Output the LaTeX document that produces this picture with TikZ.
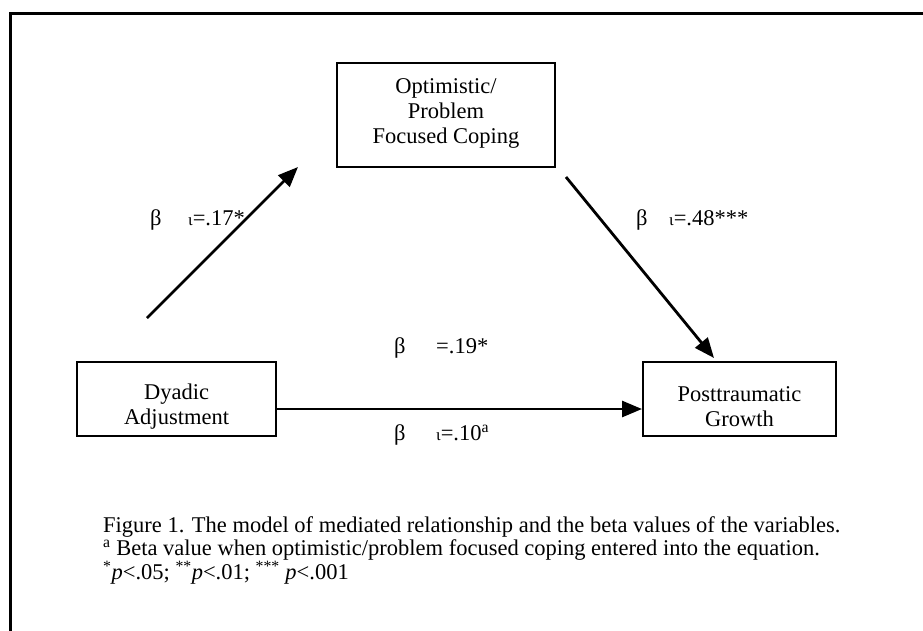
\documentclass[tikz,border=0pt]{standalone}
\usepackage{fontspec}
\setmainfont{Liberation Serif}
\usetikzlibrary{arrows.meta}
\begin{document}
\begin{tikzpicture}[x=1pt,y=-1pt,
  box/.style={draw, line width=2.2pt, inner sep=0pt},
  txt/.style={font=\fontsize{22.5}{25}\selectfont, align=center, inner sep=0pt},
  arr/.style={line width=2.8pt, -{Triangle[length=20pt,width=16pt]}},
  lab/.style={font=\fontsize{22.5}{24}\selectfont, inner sep=0pt, anchor=base west},
  iota/.style={}]
\useasboundingbox (0,0) rectangle (923,630);
% outer frame (only top and left visible)
\draw[line width=3pt] (10,632) -- (10,13) -- (925,13);
% boxes
\node[box, minimum width=218pt, minimum height=104pt] (opt) at (446,115) {};
\node[txt] (optt) at (446,113) {Optimistic/\\Problem\\Focused Coping};
\node[box, minimum width=199pt, minimum height=74pt] (dy) at (176.5,399) {};
\node[txt] (dyt) at (176.5,407) {Dyadic\\Adjustment};
\node[box, minimum width=193pt, minimum height=74pt] (pt) at (739.5,399) {};
\node[txt] (ptt) at (739.5,407) {Posttraumatic\\Growth};
% arrow end points
\coordinate (a1s) at (147,318);
\coordinate (a1e) at (298,167);
\coordinate (a2s) at (566,177);
\coordinate (a2e) at (714,358);
\coordinate (a3s) at (276,409);
\coordinate (a3e) at (642,409);
\draw[arr] (a1s) -- (a1e);
\draw[arr] (a2s) -- (a2e);
\draw[arr] (a3s) -- (a3e);
% beta labels
\node[lab] (b1) at (150,225) {β};
\node[lab] (b1v) at (188,225) {{\fontsize{17}{17}\selectfont ι}=.17*};
\node[lab] (b2) at (636,225) {β};
\node[lab] (b2v) at (669,225) {{\fontsize{17}{17}\selectfont ι}=.48***};
\node[lab] (b3) at (394,353) {β};
\node[lab] (b3v) at (436,353) {=.19*};
\node[lab] (b4) at (394,440) {β};
\node[lab] (b4v) at (436,440) {{\fontsize{17}{17}\selectfont ι}=.10\textsuperscript{a}};
% caption
\node[lab] (c1) at (103,532) {Figure 1. The model of mediated relationship and the beta values of the variables.};
\node[lab] (c2) at (103,555) {\textsuperscript{a} Beta value when optimistic/problem focused coping entered into the equation.};
\node[lab] (c3) at (103,579) {\textsuperscript{*}\textit{p}<.05; \textsuperscript{**}\textit{p}<.01; \textsuperscript{***} \textit{p}<.001};
\end{tikzpicture}
\end{document}
